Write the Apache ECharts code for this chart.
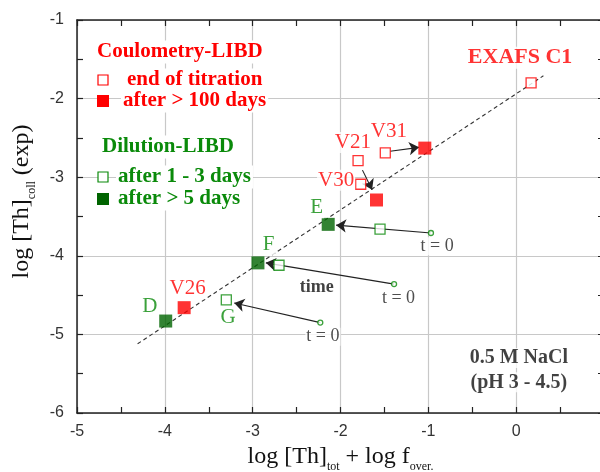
<!DOCTYPE html>
<html>
<head>
<meta charset="utf-8">
<script src="https://cdn.jsdelivr.net/npm/echarts@6/dist/echarts.min.js"></script>
<style>
  html, body { margin: 0; padding: 0; background: #fff; }
  #chart { width: 600px; height: 472px; }
</style>
</head>
<body>
<div id="chart"></div>
<script>
// Coulometry-LIBD (red)
const coulOpen = [[0.17, -1.80], [-1.49, -2.69], [-1.80, -2.79], [-1.77, -3.09]];   // C1, V31, V21, V30 end of titration
const coulFilled = [[-1.04, -2.63], [-1.59, -3.29], [-3.78, -4.66]];                // V31, V30, V26 after >100 days
// Dilution-LIBD (green)
const dilOpen = [[-1.55, -3.66], [-2.70, -4.12], [-3.30, -4.56]];                   // E, F, G after 1-3 days
const dilFilled = [[-2.14, -3.60], [-2.94, -4.09], [-3.99, -4.83]];                 // E, F, D after >5 days
const dilStart = [[-0.97, -3.71], [-1.39, -4.36], [-2.23, -4.85]];                  // t = 0
// trend line
const trend = [[-4.31, -5.12], [0.31, -1.71]];
// arrows (from, to)
const arrows = [
  [[-1.435, -2.67], [-1.105, -2.62]],
  [[-1.75, -2.91], [-1.64, -3.16]],
  [[-0.97, -3.71], [-2.05, -3.61]],
  [[-1.39, -4.36], [-2.85, -4.09]],
  [[-2.23, -4.85], [-3.21, -4.60]]
];
// point labels [x, y, text]
const redLabels = [[0.045, -1.48, 'EXAFS C1'], [-1.45, -2.42, 'V31'], [-1.86, -2.56, 'V21'], [-2.05, -3.04, 'V30'], [-3.74, -4.42, 'V26']];
const greenLabels = [[-2.27, -3.39, 'E'], [-2.82, -3.86, 'F'], [-4.17, -4.65, 'D'], [-3.28, -4.78, 'G']];
const t0Labels = [[-0.90, -3.88, 't = 0'], [-1.34, -4.54, 't = 0'], [-2.20, -5.03, 't = 0']];
const noteLabels = [[-2.27, -4.40, 'time'], [0.03, -5.30, '0.5 M NaCl'], [0.03, -5.61, '(pH 3 - 4.5)']];
// axis ticks
const xTicks = { min: -5, max: 1, step: 1 };
const yTicks = { min: -6, max: -1, step: 1 };

const RED = '#ff0000';
const GREEN = '#0a8a0a';
const GREEN_DARK = '#006400';
const SERIF = '"Liberation Serif", "DejaVu Serif", serif';
const SANS = '"Liberation Sans", Arial, sans-serif';

const chart = echarts.init(document.getElementById('chart'), null, { renderer: 'canvas' });

function axisCommon(show) {
  return {
    axisLine: { show: true, onZero: false, lineStyle: { color: '#222', width: 1.5 } },
    axisTick: { show: true, inside: true, length: 6, lineStyle: { color: '#222', width: 1.2 } },
    minorTick: { show: true, splitNumber: 2, length: 6, lineStyle: { color: '#222', width: 1.2 } },
    axisLabel: { show: false },
    splitLine: { show: show, lineStyle: { color: '#c8c8c8', width: 1.2 } }
  };
}

function labelSeries(data, color, size, weight) {
  return {
    type: 'scatter', symbolSize: 0, silent: true, z: 10,
    data: data.map(d => ({ value: [d[0], d[1]], name: d[2] })),
    label: { show: true, position: 'inside', formatter: p => p.name, color: color,
             fontFamily: SERIF, fontSize: size, fontWeight: weight,
             backgroundColor: '#fff', padding: [0, 1], lineHeight: size }
  };
}

function legendText(x, y, text, color, size) {
  return { type: 'text', x: x, y: y, z: 100,
           style: { text: text, fill: color, font: 'bold ' + size + 'px ' + SERIF,
                    verticalAlign: 'middle', backgroundColor: '#fff', padding: [1, 2] } };
}

const legendItems = [
  legendText(95, 52, 'Coulometry-LIBD', RED, 21),
  { type: 'rect', z: 100, shape: { x: 98, y: 75, width: 10, height: 10 }, style: { fill: '#fff', stroke: RED, lineWidth: 1.2 } },
  legendText(125, 80, 'end of titration', RED, 21),
  { type: 'rect', z: 100, shape: { x: 97, y: 95, width: 12, height: 12 }, style: { fill: RED } },
  legendText(121, 101, 'after > 100 days', RED, 21),
  legendText(100, 147, 'Dilution-LIBD', GREEN, 21),
  { type: 'rect', z: 100, shape: { x: 98, y: 172, width: 10, height: 10 }, style: { fill: '#fff', stroke: GREEN, lineWidth: 1.2 } },
  legendText(116, 177, 'after 1 - 3 days', GREEN, 21),
  { type: 'rect', z: 100, shape: { x: 97, y: 193, width: 12, height: 12 }, style: { fill: GREEN_DARK } },
  legendText(116, 199, 'after > 5 days', GREEN, 21)
];

const nameRich = {
  n: { fontFamily: SERIF, fontSize: 24, color: '#111', lineHeight: 28 },
  s: { fontFamily: SERIF, fontSize: 12, color: '#111', lineHeight: 12, verticalAlign: 'bottom', padding: [0, 0, -2, 0] }
};

chart.setOption({
  animation: false,
  backgroundColor: '#fff',
  grid: { left: 77, top: 20, width: 527, height: 393, containLabel: false, outerBoundsMode: 'none' },
  xAxis: [
    Object.assign({
      type: 'value', position: 'bottom', min: xTicks.min, max: xTicks.max, interval: xTicks.step,
      name: '{n|log [Th]}{s|tot}{n| + log f}{s|over.}', nameLocation: 'middle', nameGap: 28,
      nameTextStyle: { rich: nameRich }
    }, axisCommon(true), { axisLabel: { color: '#333', fontFamily: SANS, fontSize: 16, margin: 11, showMaxLabel: false } }),
    Object.assign({ type: 'value', position: 'top', min: xTicks.min, max: xTicks.max, interval: xTicks.step }, axisCommon(false))
  ],
  yAxis: [
    Object.assign({
      type: 'value', position: 'left', min: yTicks.min, max: yTicks.max, interval: yTicks.step,
      name: '{n|log [Th]}{s|coll}{n| (exp)}', nameLocation: 'middle', nameGap: 41, nameRotate: 90,
      nameTextStyle: { rich: nameRich, padding: [0, 0, 0, 30] }
    }, axisCommon(true), { axisLabel: { color: '#333', fontFamily: SANS, fontSize: 16, margin: 13 } }),
    Object.assign({ type: 'value', position: 'right', min: yTicks.min, max: yTicks.max, interval: yTicks.step }, axisCommon(false))
  ],
  graphic: legendItems,
  series: [
    { type: 'line', data: trend, symbol: 'none', silent: true, z: 2,
      lineStyle: { color: '#333', width: 1.1, type: [4, 3] } },
    { type: 'lines', coordinateSystem: 'cartesian2d', silent: true, z: 3,
      symbol: ['none', 'arrow'], symbolSize: [0, 10],
      lineStyle: { color: '#222', width: 1.1, opacity: 1 },
      data: arrows.map(a => ({ coords: a })) },
    { type: 'scatter', data: coulOpen, symbol: 'rect', symbolSize: 10, z: 5,
      itemStyle: { color: '#fff', borderColor: RED, borderWidth: 1.3 } },
    { type: 'scatter', data: coulFilled, symbol: 'rect', symbolSize: 13, z: 5,
      itemStyle: { color: RED } },
    { type: 'scatter', data: dilOpen, symbol: 'rect', symbolSize: 10, z: 5,
      itemStyle: { color: '#fff', borderColor: GREEN, borderWidth: 1.3 } },
    { type: 'scatter', data: dilFilled, symbol: 'rect', symbolSize: 13, z: 5,
      itemStyle: { color: GREEN_DARK } },
    { type: 'scatter', data: dilStart, symbol: 'circle', symbolSize: 5, z: 5,
      itemStyle: { color: '#fff', borderColor: GREEN, borderWidth: 1.3 } },
    labelSeries(redLabels.slice(0, 1), RED, 22, 'bold'),
    labelSeries(redLabels.slice(1), RED, 21, 'normal'),
    labelSeries(greenLabels, GREEN, 21, 'normal'),
    labelSeries(t0Labels, '#222', 18, 'normal'),
    labelSeries(noteLabels.slice(0, 1), '#111', 18, 'bold'),
    labelSeries(noteLabels.slice(1), '#111', 20, 'bold')
  ]
});
</script>
</body>
</html>
